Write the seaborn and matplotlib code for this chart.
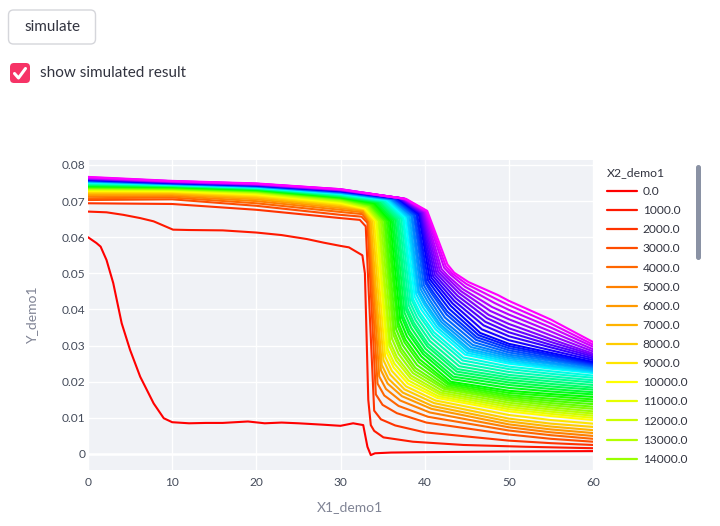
import colorsys
import pandas as pd
import matplotlib.pyplot as plt
import seaborn as sns
from matplotlib.patches import FancyBboxPatch
from matplotlib.lines import Line2D
from matplotlib.transforms import IdentityTransform

# X2_demo1 levels (one curve each)
x2_levels = [0.0, 1000.0, 2000.0, 3000.0, 4000.0, 5000.0, 6000.0, 7000.0, 8000.0, 9000.0,
             10000.0, 11000.0, 12000.0, 13000.0, 14000.0, 15000.0, 16000.0, 17000.0, 18000.0, 19000.0,
             20000.0, 21000.0, 22000.0, 23000.0, 24000.0, 25000.0, 26000.0, 27000.0, 28000.0, 29000.0,
             30000.0, 31000.0, 32000.0, 33000.0, 34000.0, 35000.0, 36000.0, 37000.0, 38000.0, 39000.0,
             40000.0, 41000.0, 42000.0, 43000.0, 44000.0, 45000.0, 46000.0, 47000.0, 48000.0, 49000.0,
             50000.0]

# y values below are in units of 1e-3
# curve X2=0
c0_x = [0, 1, 1.5, 2.2, 3, 4, 5, 6.2, 7.8, 9, 10, 12, 14, 16, 19, 21, 23, 25, 28, 30,
        31.5, 32.7, 33.2, 33.6, 34.1, 36, 40, 50, 60]
c0_y = [60.0, 58.4, 57.4, 53.7, 47.3, 36.2, 28.8, 21.4, 14.0, 9.9, 8.8, 8.5, 8.6, 8.6, 9.0, 8.5, 8.7, 8.5, 8.1, 7.8,
        8.5, 8.0, 2.0, -0.3, 0.2, 0.4, 0.5, 0.7, 0.8]
# curve X2=1000
c1_x = [0, 2.2, 4.2, 6.2, 7.8, 9, 10.1, 12, 16, 20, 23, 26, 28, 30, 31, 32.6,
        32.9, 33.3, 33.6, 34.0, 35.1, 38.6, 44.6, 52, 60]
c1_y = [67.1, 66.9, 66.2, 65.3, 64.4, 63.2, 62.1, 62.0, 61.9, 61.3, 60.6, 59.5, 58.5, 57.6, 57.2, 55.0,
        50.0, 15.0, 8.0, 6.4, 4.6, 3.4, 2.5, 2.0, 1.6]

# curves X2=2000 .. 50000: read-off points
p0 = [69.4, 70.3, 70.8, 71.3, 71.7, 72.1, 72.4, 72.7, 72.9,
      73.1, 73.3, 73.5, 73.6, 73.7, 73.8, 73.9, 74.0, 74.1, 74.2,
      74.3, 74.4, 74.5, 74.6, 74.7, 74.8, 74.9, 75.0, 75.1, 75.2,
      75.3, 75.4, 75.5, 75.5, 75.6, 75.7, 75.7, 75.8, 75.9, 75.9,
      76.0, 76.1, 76.1, 76.2, 76.3, 76.3, 76.4, 76.5, 76.6, 76.7]
p10 = [69.2, 70.5, 71.0, 71.4, 71.8, 72.1, 72.4, 72.6, 72.8,
       73.0, 73.2, 73.3, 73.4, 73.5, 73.6, 73.7, 73.8, 73.9, 74.0,
       74.0, 74.1, 74.2, 74.2, 74.3, 74.4, 74.4, 74.5, 74.5, 74.6,
       74.6, 74.7, 74.7, 74.8, 74.8, 74.9, 74.9, 75.0, 75.0, 75.1,
       75.1, 75.2, 75.2, 75.3, 75.3, 75.4, 75.4, 75.5, 75.5, 75.6]
p20 = [67.6, 68.7, 69.4, 70.0, 70.5, 70.9, 71.3, 71.6, 71.9,
       72.1, 72.3, 72.5, 72.6, 72.7, 72.8, 72.9, 73.0, 73.1, 73.2,
       73.3, 73.3, 73.4, 73.5, 73.5, 73.6, 73.7, 73.7, 73.8, 73.8,
       73.9, 74.0, 74.0, 74.1, 74.1, 74.2, 74.2, 74.3, 74.3, 74.4,
       74.4, 74.5, 74.5, 74.6, 74.6, 74.7, 74.7, 74.8, 74.8, 74.9]
p30 = [65.3, 66.2, 67.0, 67.6, 68.1, 68.5, 68.9, 69.2, 69.5,
       69.8, 70.0, 70.2, 70.4, 70.6, 70.7, 70.8, 70.9, 71.0, 71.1,
       71.2, 71.3, 71.4, 71.5, 71.6, 71.7, 71.8, 71.9, 72.0, 72.1,
       72.2, 72.3, 72.3, 72.4, 72.5, 72.6, 72.6, 72.7, 72.8, 72.8,
       72.9, 72.9, 73.0, 73.0, 73.1, 73.1, 73.2, 73.2, 73.3, 73.3]
shoulder_x = [32.3, 32.5, 32.6, 32.7, 32.7, 32.8, 32.8, 32.8, 32.9,
              33.0, 33.1, 33.2, 33.3, 33.4, 33.5, 33.6, 33.7, 33.9, 34.0,
              34.2, 34.3, 34.5, 34.6, 34.8, 34.9, 35.1, 35.2, 35.4, 35.5,
              35.6, 35.8, 35.9, 36.0, 36.1, 36.3, 36.4, 36.5, 36.7, 36.8,
              36.9, 37.0, 37.1, 37.2, 37.3, 37.4, 37.5, 37.6, 37.7, 37.8]
shoulder_y = [64.8, 65.7, 66.4, 66.9, 67.3, 67.6, 67.8, 67.9, 68.0,
              68.2, 68.3, 68.5, 68.6, 68.8, 68.9, 69.0, 69.2, 69.3, 69.5,
              69.6, 69.7, 69.8, 69.9, 70.0, 70.0, 70.1, 70.2, 70.3, 70.4,
              70.4, 70.5, 70.5, 70.6, 70.6, 70.6, 70.7, 70.7, 70.8, 70.8,
              70.8, 70.8, 70.8, 70.8, 70.8, 70.7, 70.7, 70.7, 70.6, 70.6]
drop_x = [33.0, 33.2, 33.3, 33.4, 33.5, 33.6, 33.8, 34.0, 34.2,
          34.3, 34.5, 34.6, 34.8, 35.0, 35.2, 35.3, 35.5, 35.7, 35.9,
          36.1, 36.3, 36.5, 36.7, 36.8, 37.0, 37.2, 37.4, 37.5, 37.7,
          37.9, 38.0, 38.2, 38.4, 38.5, 38.7, 38.8, 39.0, 39.1, 39.3,
          39.4, 39.5, 39.6, 39.7, 39.8, 39.9, 40.0, 40.1, 40.2, 40.3]
drop_y = [63.0, 64.0, 64.3, 64.4, 64.4, 64.4, 64.4, 64.5, 64.5,
          64.5, 64.5, 64.5, 64.5, 64.5, 64.5, 64.5, 64.5, 64.5, 64.5,
          64.6, 64.7, 64.8, 64.9, 65.0, 65.1, 65.2, 65.3, 65.4, 65.5,
          65.6, 65.7, 65.8, 65.9, 66.0, 66.1, 66.2, 66.3, 66.4, 66.5,
          66.6, 66.7, 66.8, 66.8, 66.9, 67.0, 67.1, 67.1, 67.2, 67.3]
knee_x = [34.0, 34.2, 34.4, 34.6, 34.8, 34.9, 35.1, 35.3, 35.5,
          35.6, 35.8, 35.9, 36.1, 36.3, 36.4, 36.6, 36.8, 36.9, 37.1,
          37.3, 37.4, 37.6, 37.8, 37.9, 38.1, 38.3, 38.5, 38.6, 38.8,
          39.0, 39.2, 39.3, 39.5, 39.7, 39.9, 40.1, 40.2, 40.4, 40.6,
          40.8, 41.0, 41.2, 41.4, 41.6, 41.8, 42.0, 42.3, 42.5, 42.7]
knee_y = [12.0, 16.5, 19.5, 21.5, 23.2, 24.7, 26.0, 27.0, 28.0,
          29.0, 30.0, 31.0, 32.0, 32.9, 33.8, 34.6, 35.4, 36.2, 37.0,
          37.7, 38.4, 39.1, 39.8, 40.5, 41.2, 41.8, 42.4, 43.0, 43.6,
          44.2, 44.7, 45.2, 45.7, 46.2, 46.7, 47.2, 47.6, 48.0, 48.4,
          48.8, 49.2, 49.6, 50.0, 50.4, 50.8, 51.2, 51.6, 52.0, 52.5]
bend_offsets = [0.8, 2.5, 6.0]
bend1 = [9.6, 13.6, 16.2, 18.0, 19.5, 20.8, 22.0, 23.0, 24.0,
         25.0, 25.9, 26.8, 27.7, 28.5, 29.3, 30.1, 30.9, 31.7, 32.5,
         33.3, 34.1, 34.9, 35.7, 36.4, 37.1, 37.8, 38.5, 39.2, 40.0,
         40.6, 41.2, 41.8, 42.4, 43.0, 43.6, 44.2, 44.8, 45.4, 46.0,
         46.5, 47.0, 47.5, 48.0, 48.5, 48.9, 49.2, 49.6, 49.9, 50.2]
bend2 = [7.9, 11.3, 13.3, 14.8, 16.0, 17.0, 17.9, 18.7, 19.5,
         20.3, 21.0, 21.7, 22.4, 23.0, 23.8, 24.6, 25.4, 26.2, 27.0,
         27.7, 28.4, 29.1, 29.8, 30.5, 31.3, 32.1, 32.9, 33.7, 34.5,
         35.0, 35.5, 36.0, 36.5, 37.0, 37.8, 38.6, 39.4, 40.2, 41.0,
         41.7, 42.4, 43.1, 43.8, 44.5, 45.1, 45.7, 46.3, 47.0, 47.6]
bend3 = [6.0, 8.7, 10.3, 11.5, 12.5, 13.3, 14.1, 14.8, 15.5,
         16.0, 16.5, 17.0, 17.5, 18.0, 18.4, 18.8, 19.2, 19.6, 20.0,
         20.7, 21.4, 22.1, 22.8, 23.5, 24.3, 25.1, 25.9, 26.7, 27.5,
         28.0, 28.5, 29.0, 29.6, 30.2, 30.9, 31.6, 32.3, 32.9, 33.5,
         34.5, 35.6, 36.6, 37.6, 38.5, 39.6, 40.7, 41.8, 42.9, 44.0]
t50 = [3.7, 5.4, 6.5, 7.4, 8.2, 9.0, 9.8, 10.8, 11.8,
       12.4, 13.0, 13.6, 14.2, 14.8, 15.3, 15.8, 16.3, 16.9, 17.5,
       18.3, 19.1, 19.8, 20.5, 21.2, 21.9, 22.7, 23.5, 24.2, 25.0,
       25.5, 26.0, 26.5, 27.0, 27.5, 28.1, 28.7, 29.3, 29.9, 30.5,
       31.5, 32.6, 33.7, 34.8, 36.0, 37.3, 38.6, 39.9, 41.2, 42.4]
t55 = [3.0, 4.2, 5.2, 6.0, 6.8, 7.6, 8.4, 9.4, 10.5,
       11.1, 11.7, 12.3, 12.9, 13.5, 14.1, 14.7, 15.3, 16.0, 16.6,
       17.3, 18.0, 18.7, 19.4, 20.1, 20.8, 21.5, 22.2, 22.9, 23.6,
       24.0, 24.4, 24.9, 25.3, 25.8, 26.2, 26.6, 27.1, 27.5, 28.0,
       28.7, 29.5, 30.2, 31.0, 31.8, 32.8, 33.9, 35.0, 36.1, 37.2]
t60 = [2.5, 3.4, 4.2, 5.0, 5.8, 6.6, 7.5, 8.4, 9.4,
       10.0, 10.6, 11.2, 11.8, 12.5, 13.1, 13.8, 14.5, 15.1, 15.8,
       16.5, 17.1, 17.8, 18.4, 19.1, 19.8, 20.4, 21.1, 21.7, 22.4,
       22.7, 23.0, 23.3, 23.6, 24.0, 24.3, 24.6, 24.9, 25.2, 25.5,
       26.0, 26.5, 27.0, 27.4, 27.8, 28.4, 29.0, 29.7, 30.3, 31.0]

x_ticks = [0, 10, 20, 30, 40, 50, 60]
y_ticks = [0, 0.01, 0.02, 0.03, 0.04, 0.05, 0.06, 0.07, 0.08]
y_tick_labels = ["0", "0.01", "0.02", "0.03", "0.04", "0.05", "0.06", "0.07", "0.08"]

labels = [f"{v:.1f}" for v in x2_levels]

rows = []
def add_curve(label, xs, ys):
    for xv, yv in zip(xs, ys):
        rows.append({"X1_demo1": xv, "Y_demo1": yv / 1000, "X2_demo1": label})

add_curve(labels[0], c0_x, c0_y)
add_curve(labels[1], c1_x, c1_y)
for j in range(len(p0)):
    kx = knee_x[j]
    xs = [0, 10, 20, 30, shoulder_x[j], drop_x[j], kx] + [kx + o for o in bend_offsets] + [50, 55, 60]
    ys = [p0[j], p10[j], p20[j], p30[j], shoulder_y[j], drop_y[j], knee_y[j],
          bend1[j], bend2[j], bend3[j], t50[j], t55[j], t60[j]]
    add_curve(labels[j + 2], xs, ys)
df = pd.DataFrame(rows)

colors = [colorsys.hsv_to_rgb(k * 6 / 360, 1, 1) for k in range(len(labels))]

sns.set_theme(style="darkgrid", rc={"axes.facecolor": "#F0F2F6", "grid.color": "white",
                                    "grid.linewidth": 1.0})
plt.rcParams["font.family"] = ["Lato", "DejaVu Sans"]

W, H = 720, 526
fig = plt.figure(figsize=(7.2, 5.26), dpi=100)
fig.patch.set_facecolor("white")
ax = fig.add_axes([88 / W, 1 - 470 / H, 505 / W, 310 / H])

sns.lineplot(data=df, x="X1_demo1", y="Y_demo1", hue="X2_demo1", hue_order=labels,
             palette=colors, estimator=None, sort=False, lw=1.5, ax=ax)
ax.axhline(0, color="white", lw=1.8, zorder=1)

ax.set_xlim(0, 60)
ax.set_ylim(-0.00443, 0.08138)
ax.set_xticks(x_ticks)
ax.set_xticklabels([str(t) for t in x_ticks])
ax.set_yticks(y_ticks)
ax.set_yticklabels(y_tick_labels)
ax.tick_params(length=0, labelsize=8.6, colors="#444B5A")
ax.tick_params(axis="x", pad=5)
ax.tick_params(axis="y", pad=2)
for s in ax.spines.values():
    s.set_visible(False)

ax.set_xlabel("X1_demo1", fontsize=10, color="#808495")
ax.set_ylabel("Y_demo1", fontsize=10, color="#808495")
ax.xaxis.label.set_va("center")
ax.yaxis.label.set_va("center")
ax.xaxis.set_label_coords(262 / 505, -37 / 310)
ax.yaxis.set_label_coords(-56 / 505, 0.5)

handles, hl = ax.get_legend_handles_labels()
leg = ax.legend(handles[:15], hl[:15], title="X2_demo1", loc="upper left",
                bbox_to_anchor=(607 / W, 1 - 167 / H), bbox_transform=fig.transFigure,
                frameon=False, fontsize=8.6, title_fontsize=8.8, handlelength=2.5,
                handletextpad=0.5, labelspacing=0.68, borderaxespad=0, borderpad=0,
                alignment="left")
for t in leg.get_texts():
    t.set_color("#31333F")
leg.get_title().set_color("#31333F")
for h in leg.legend_handles:
    h.set_linewidth(1.6)

# legend scrollbar
fig.add_artist(FancyBboxPatch((696, H - 260), 5, 95, boxstyle="round,pad=0,rounding_size=2.5",
                              transform=IdentityTransform(), fc="#8A92A4", ec="none"))

# streamlit widgets above the chart
fig.add_artist(FancyBboxPatch((8.5, H - 44), 87, 34, boxstyle="round,pad=0,rounding_size=5",
                              transform=IdentityTransform(), fc="white", ec="#D5D6DB", lw=1))
fig.text(52 / W, 1 - 27 / H, "simulate", ha="center", va="center", fontsize=11, color="#31333F")
fig.add_artist(FancyBboxPatch((10, H - 83), 20, 20, boxstyle="round,pad=0,rounding_size=4",
                              transform=IdentityTransform(), fc="#F63366", ec="none"))
fig.add_artist(Line2D([14.5, 18.5, 25.5], [H - 73.5, H - 78, H - 68.5], color="white", lw=2.2,
                      transform=IdentityTransform(), solid_capstyle="round", solid_joinstyle="round"))
fig.text(40 / W, 1 - 73 / H, "show simulated result", ha="left", va="center", fontsize=11,
         color="#31333F")

fig.savefig("out.png", dpi=100)
